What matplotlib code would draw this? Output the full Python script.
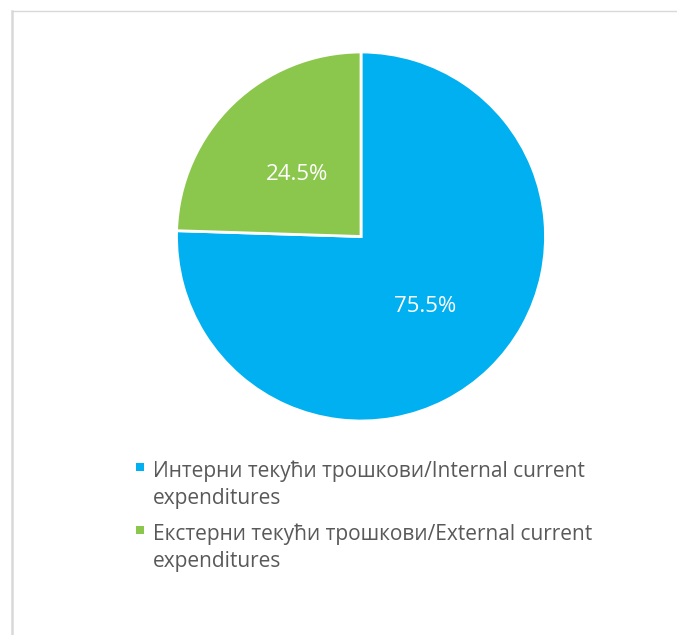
import matplotlib.pyplot as plt
from matplotlib.lines import Line2D
from matplotlib.patches import Rectangle

# Podaci
labels = ['Интерни текући трошкови/Internal current\nexpenditures',
          'Екстерни текући трошкови/External current\nexpenditures']
values = [75.5, 24.5]
colors = ['#00B0F0', '#8BC74C']

W, H = 677, 635
plt.rcParams['font.family'] = ['Open Sans', 'DejaVu Sans']
fig = plt.figure(figsize=(W / 100, H / 100), dpi=100)

# okvir (samo gornja i lijeva ivica su vidljive)
fig.add_artist(Line2D([11.5 / W, 1], [1 - 10.5 / H, 1 - 10.5 / H], color='#d9d9d9', lw=1.0))
fig.add_artist(Line2D([11.5 / W, 11.5 / W], [0, 1 - 10.5 / H], color='#d9d9d9', lw=1.8))

# pita
cx, cy, r = 361, 236.5, 184.5
ax = fig.add_axes([(cx - r) / W, (H - cy - r) / H, 2 * r / W, 2 * r / H])
wedges, texts, autotexts = ax.pie(values, colors=colors, startangle=90, counterclock=False,
                                  autopct='%.1f%%', pctdistance=0.5,
                                  wedgeprops=dict(edgecolor='white', linewidth=2))
for t in autotexts:
    t.set_color('white')
    t.set_fontsize(16)
    x, y = t.get_position()
    t.set_position((x, y - 0.022))
ax.set_xlim(-1, 1)
ax.set_ylim(-1, 1)
ax.set_aspect('equal')
ax.axis('off')

# legenda
baselines = [477, 540]
for lab, col, yb in zip(labels, colors, baselines):
    fig.add_artist(Rectangle((136 / W, 1 - (yb - 6) / H), 8 / W, 8 / H,
                             transform=fig.transFigure, color=col, lw=0))
    for i, line in enumerate(lab.split('\n')):
        fig.text(153 / W, 1 - (yb + 27 * i) / H, line, fontsize=15,
                 color='#595959', va='baseline', ha='left')

fig.savefig('out.png', dpi=100)
